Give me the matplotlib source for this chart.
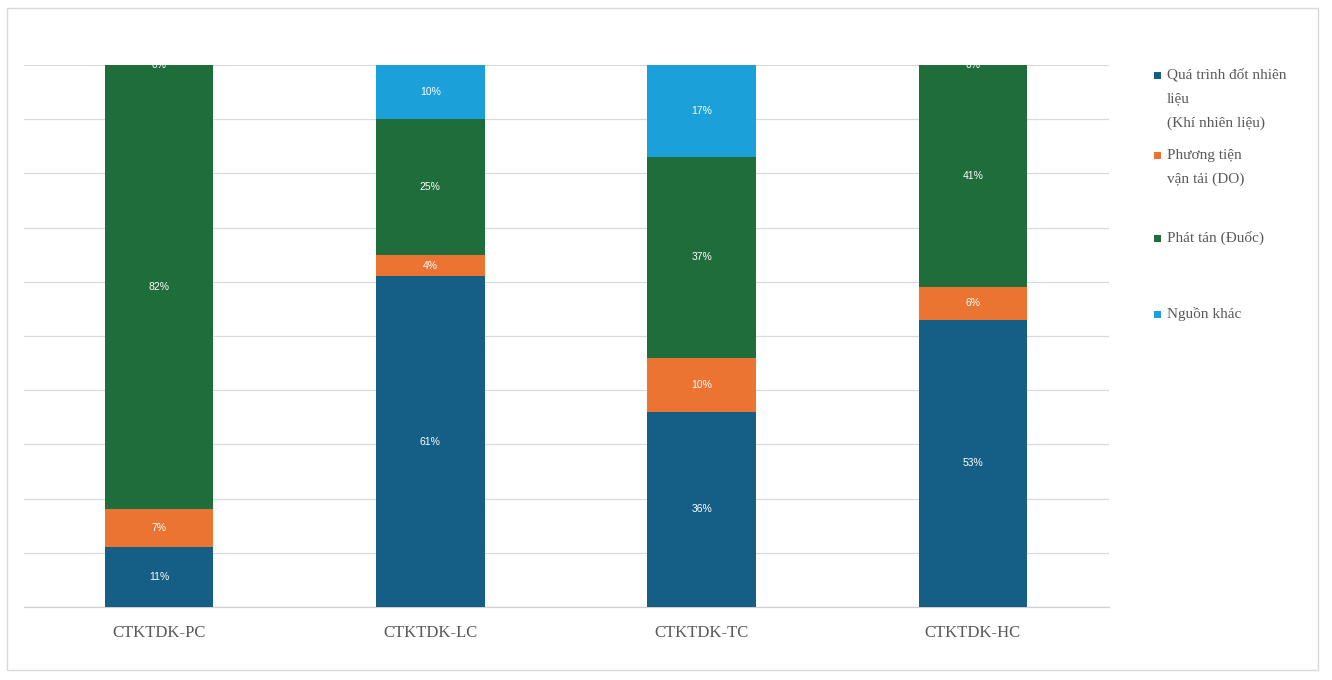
import matplotlib
matplotlib.use("Agg")
import matplotlib.pyplot as plt
from matplotlib.patches import Rectangle
import numpy as np

categories = ["CTKTDK-PC", "CTKTDK-LC", "CTKTDK-TC", "CTKTDK-HC"]
series_names = [
    "Quá trình đốt nhiên\nliệu\n(Khí nhiên liệu)",
    "Phương tiện\nvận tải (DO)",
    "Phát tán (Đuốc)",
    "Nguồn khác",
]
fuel_combustion = [11, 61, 36, 53]
transport_do = [7, 4, 10, 6]
flaring = [82, 25, 37, 41]
other_sources = [0, 10, 17, 0]

series_values = [fuel_combustion, transport_do, flaring, other_sources]
colors = ["#155F87", "#EC7432", "#1E6D3A", "#1BA0D9"]

W, H = 1332, 680
fig = plt.figure(figsize=(W / 100, H / 100), dpi=100)
fig.patch.set_facecolor("white")

# outer chart frame
fig.patches.append(Rectangle((7 / W, 10 / H), (1318 - 7) / W, (672 - 10) / H,
                             transform=fig.transFigure, fill=False,
                             edgecolor="#D9D9D9", linewidth=1.0))

ax = fig.add_axes([23.5 / W, 1 - 607 / H, (1108.5 - 23.5) / W, (607 - 65) / H])
x = np.arange(len(categories))
bottom = np.zeros(len(categories))
for vals, col in zip(series_values, colors):
    vals = np.array(vals, dtype=float)
    ax.bar(x, vals, width=0.4, bottom=bottom, color=col, zorder=3)
    for xi, b, v in zip(x, bottom, vals):
        ax.text(xi, b + v / 2, f"{int(v)}%", ha="center", va="center",
                color="white", fontsize=7.5, family="Liberation Sans", zorder=4)
    bottom += vals

ax.set_xlim(-0.5, len(categories) - 0.5)
ax.set_ylim(0, 100)
ax.set_yticks(np.arange(0, 101, 10))
ax.yaxis.grid(True, color="#D9D9D9", linewidth=0.9, zorder=0)
ax.set_axisbelow(True)
ax.tick_params(axis="y", left=False, labelleft=False)
ax.tick_params(axis="x", length=0, pad=13)
ax.set_xticks(x)
ax.set_xticklabels(categories, fontsize=12, family="Liberation Serif", color="#595959")
for s in ["top", "left", "right"]:
    ax.spines[s].set_visible(False)
ax.spines["bottom"].set_color("#D0D0D0")
ax.spines["bottom"].set_linewidth(0.9)

# legend
entry_tops = [75, 155, 238, 314]
line_step = 24
for name, col, ytop in zip(series_names, colors, entry_tops):
    fig.patches.append(Rectangle((1154 / W, 1 - (ytop + 4) / H), 7 / W, 7 / H,
                                 transform=fig.transFigure, facecolor=col,
                                 edgecolor="none"))
    for i, line in enumerate(name.split("\n")):
        fig.text(1167 / W, 1 - (ytop + i * line_step) / H, line,
                 ha="left", va="center", fontsize=11,
                 family="Liberation Serif", color="#595959")

fig.savefig("out.png", dpi=100, facecolor="white")
